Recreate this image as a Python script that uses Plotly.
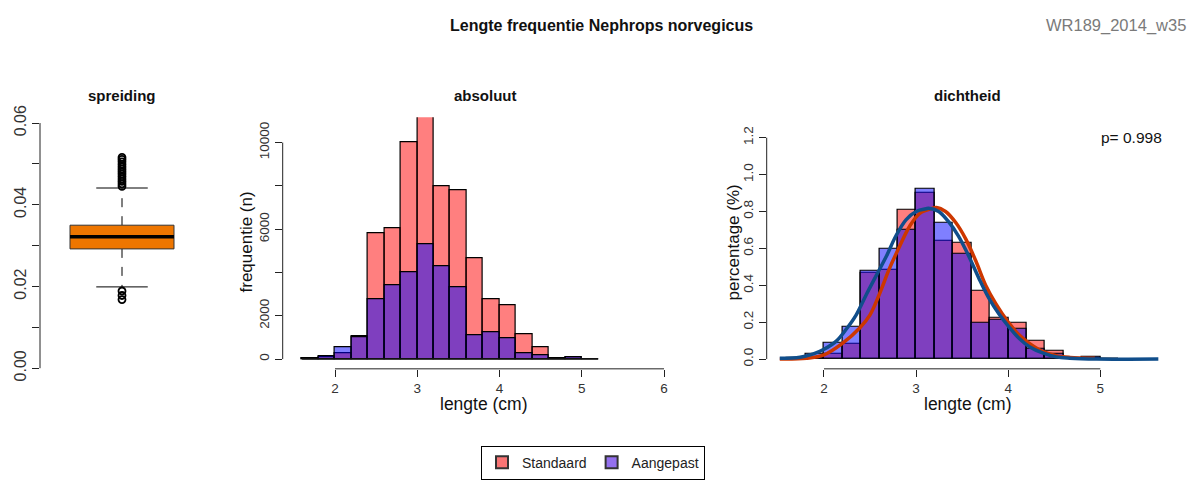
import plotly.graph_objects as go

# ---------------- data ----------------
bin_mids = [1.7, 1.9, 2.1, 2.3, 2.5, 2.7, 2.9, 3.1, 3.3, 3.5, 3.7, 3.9, 4.1, 4.3, 4.5, 4.7, 4.9, 5.1]
bin_width = 0.2

count_standaard = [30, 75, 270, 1050, 5800, 6040, 10040, 11210, 7966, 7816, 4650, 2766, 2480, 1172, 541, 30, 100, 0]
count_aangepast = [40, 150, 541, 1000, 2766, 3427, 4028, 5306, 4284, 3300, 1127, 1247, 947, 270, 195, 15, 80, 0]

dens_standaard = [0.003, 0.006, 0.026, 0.085, 0.470, 0.482, 0.808, 0.902, 0.641, 0.632, 0.372, 0.222, 0.196, 0.097, 0.046, 0.003, 0.008, 0.0]
dens_aangepast = [0.007, 0.026, 0.090, 0.173, 0.480, 0.596, 0.702, 0.921, 0.741, 0.570, 0.194, 0.212, 0.164, 0.053, 0.028, 0.003, 0.014, 0.0]

curve_std_x = [1.52, 1.81, 2.0, 2.2, 2.39, 2.5, 2.6, 2.71, 2.82, 2.93, 3.04, 3.18, 3.22, 3.32, 3.43, 3.54, 3.65,
               3.755, 3.865, 4.0, 4.12, 4.23, 4.38, 4.52, 4.67, 4.94]
curve_std_y = [0.0, 0.004, 0.023, 0.085, 0.17, 0.24, 0.35, 0.49, 0.61, 0.72, 0.79, 0.818, 0.822, 0.80, 0.74, 0.65, 0.53,
               0.40, 0.30, 0.20, 0.13, 0.085, 0.04, 0.018, 0.009, 0.004]

curve_aan_x = [1.52, 1.74, 1.885, 2.0, 2.14, 2.245, 2.35, 2.46, 2.57, 2.68, 2.78, 2.89, 3.0, 3.11, 3.135, 3.245,
               3.35, 3.46, 3.57, 3.68, 3.79, 3.90, 4.01, 4.12, 4.23, 4.38, 4.52, 4.67, 4.96, 5.63]
curve_aan_y = [0.004, 0.01, 0.028, 0.053, 0.10, 0.164, 0.24, 0.35, 0.455, 0.56, 0.667, 0.755, 0.80, 0.815, 0.817, 0.80,
               0.746, 0.667, 0.56, 0.44, 0.33, 0.244, 0.173, 0.111, 0.067, 0.032, 0.012, 0.005, 0.0, 0.0]

box_q1, box_median, box_q3 = 0.0292, 0.0322, 0.0350
box_lower_whisker, box_upper_whisker = 0.0199, 0.0441
outliers = [0.0445, 0.0451, 0.0457, 0.0463, 0.0469, 0.0475, 0.0481, 0.0487, 0.0493, 0.0499,
            0.0505, 0.0511, 0.0516, 0.0189, 0.0178, 0.0168]

p_value_text = "p= 0.998"

# ---------------- styles ----------------
W, H = 1198, 480
C_STD = "rgba(255,0,0,0.5)"
C_AAN = "rgba(0,0,255,0.5)"
C_ORANGE = "#EE7600"
C_RED_LINE = "#CD3700"
C_BLUE_LINE = "#104E8B"
FONT = "Liberation Sans, Arial, sans-serif"
NARROW = "Liberation Sans Narrow, Arial Narrow, Liberation Sans, sans-serif"


def px_x(p):
    return p / W


def px_y(p):
    return 1 - p / H


fig = go.Figure()

# ---------------- panel 1: boxplot ----------------
c, hw, cap = 1.0, 0.317, 0.157
fig.add_trace(go.Scatter(x=[c, c], y=[box_q3, box_upper_whisker], mode="lines",
                         line=dict(color="black", width=1, dash="dash"), xaxis="x", yaxis="y", showlegend=False))
fig.add_trace(go.Scatter(x=[c, c], y=[box_q1, box_lower_whisker], mode="lines",
                         line=dict(color="black", width=1, dash="dash"), xaxis="x", yaxis="y", showlegend=False))
for wv in (box_upper_whisker, box_lower_whisker):
    fig.add_trace(go.Scatter(x=[c - cap, c + cap], y=[wv, wv], mode="lines",
                             line=dict(color="black", width=1), xaxis="x", yaxis="y", showlegend=False))
fig.add_trace(go.Scatter(x=[c - hw, c + hw, c + hw, c - hw, c - hw],
                         y=[box_q1, box_q1, box_q3, box_q3, box_q1], mode="lines", fill="toself",
                         fillcolor=C_ORANGE, line=dict(color="#333", width=1),
                         xaxis="x", yaxis="y", showlegend=False))
fig.add_trace(go.Scatter(x=[c - hw, c + hw], y=[box_median, box_median], mode="lines",
                         line=dict(color="black", width=3.5), xaxis="x", yaxis="y", showlegend=False))
fig.add_trace(go.Scatter(x=[c] * len(outliers), y=outliers, mode="markers",
                         marker=dict(symbol="circle-open", size=7, color="black", line=dict(width=1.8)),
                         xaxis="x", yaxis="y", showlegend=False))

# ---------------- panel 2: absolute histogram ----------------
fig.add_trace(go.Bar(x=bin_mids, y=count_standaard, width=bin_width, marker=dict(color=C_STD, line=dict(color="black", width=1.2)),
                     xaxis="x2", yaxis="y2", showlegend=False))
fig.add_trace(go.Bar(x=bin_mids, y=count_aangepast, width=bin_width, marker=dict(color=C_AAN, line=dict(color="black", width=1.2)),
                     xaxis="x2", yaxis="y2", showlegend=False))
fig.add_trace(go.Scatter(x=[bin_mids[0] - bin_width / 2, bin_mids[-1] + bin_width / 2], y=[0, 0], mode="lines",
                         line=dict(color="#222", width=1.2), xaxis="x2", yaxis="y2", showlegend=False))

# ---------------- panel 3: density ----------------
fig.add_trace(go.Bar(x=bin_mids, y=dens_standaard, width=bin_width, marker=dict(color=C_STD, line=dict(color="black", width=1.2)),
                     xaxis="x3", yaxis="y3", showlegend=False))
fig.add_trace(go.Bar(x=bin_mids, y=dens_aangepast, width=bin_width, marker=dict(color=C_AAN, line=dict(color="black", width=1.2)),
                     xaxis="x3", yaxis="y3", showlegend=False))
fig.add_trace(go.Scatter(x=curve_std_x, y=curve_std_y, mode="lines", line=dict(color=C_RED_LINE, width=3.5, shape="spline"),
                         xaxis="x3", yaxis="y3", showlegend=False))
fig.add_trace(go.Scatter(x=curve_aan_x, y=curve_aan_y, mode="lines", line=dict(color=C_BLUE_LINE, width=3.5, shape="spline"),
                         xaxis="x3", yaxis="y3", showlegend=False))

# legend-only entries
fig.add_trace(go.Bar(x=[None], y=[None], name="Standaard", marker=dict(color="#F87474", line=dict(color="#333", width=1.5)),
                     xaxis="x2", yaxis="y2"))
fig.add_trace(go.Bar(x=[None], y=[None], name="Aangepast", marker=dict(color="#9470EE", line=dict(color="#333", width=1.5)),
                     xaxis="x2", yaxis="y2"))

common = dict(showgrid=False, zeroline=False, showline=False, ticks="outside", ticklen=7,
              tickwidth=1, tickcolor="#222")
xcommon = dict(common, tickfont=dict(family=FONT, size=13.5, color="#333"))
ycommon = dict(common, tickfont=dict(family=FONT, size=13.5, color="#333"))
ybox = dict(common, tickfont=dict(family=FONT, size=16, color="#333"))

fig.update_layout(
    width=W, height=H, margin=dict(l=0, r=0, t=0, b=0),
    paper_bgcolor="white", plot_bgcolor="white", barmode="overlay", bargap=0,
    xaxis=dict(domain=[px_x(40), px_x(204)], range=[0.5, 1.5], visible=False, anchor="y"),
    yaxis=dict(domain=[px_y(378.7), px_y(107.7)], range=[-0.0024, 0.0624], anchor="x",
               tickvals=[0, 0.01, 0.02, 0.03, 0.04, 0.05, 0.06],
               ticktext=["0.00", "", "0.02", "", "0.04", "", "0.06"], tickangle=-90, **ybox),
    xaxis2=dict(domain=[px_x(282.7), px_x(684.6)], range=[1.364, 6.25], anchor="y2",
                tickvals=[2, 3, 4, 5, 6], **xcommon),
    yaxis2=dict(domain=[px_y(369.3), px_y(111.7)], range=[-451, 11174], anchor="x2",
                tickvals=[0, 2000, 4000, 6000, 8000, 10000],
                ticktext=["0", "2000", "", "6000", "", "10000"], tickangle=-90, **ycommon),
    xaxis3=dict(domain=[px_x(766.7), px_x(1174)], range=[1.378, 5.80], anchor="y3",
                tickvals=[2, 3, 4, 5], **xcommon),
    yaxis3=dict(domain=[px_y(369.3), px_y(123.7)], range=[-0.053, 1.248], anchor="x3",
                tickvals=[0, 0.2, 0.4, 0.6, 0.8, 1.0, 1.2],
                ticktext=["0.0", "0.2", "0.4", "0.6", "0.8", "1.0", "1.2"], tickangle=-90, **ycommon),
    legend=dict(orientation="h", x=px_x(481), xanchor="left", y=px_y(448), yanchor="top",
                bordercolor="black", borderwidth=1, bgcolor="white",
                font=dict(family=FONT, size=14, color="#222"), itemsizing="constant",
                traceorder="normal"),
    showlegend=True,
)

# axis lines (R style, spanning first to last tick)
line_style = dict(color="#222", width=1)
fig.add_shape(type="line", xref="x domain", yref="y", x0=0, x1=0, y0=0, y1=0.06, line=line_style)
fig.add_shape(type="line", xref="x2 domain", yref="y2", x0=0, x1=0, y0=0, y1=10000, line=line_style)
fig.add_shape(type="line", xref="x2", yref="y2 domain", x0=2, x1=6, y0=0, y1=0, line=line_style)
fig.add_shape(type="line", xref="x3 domain", yref="y3", x0=0, x1=0, y0=0, y1=1.2, line=line_style)
fig.add_shape(type="line", xref="x3", yref="y3 domain", x0=2, x1=5, y0=0, y1=0, line=line_style)

# texts
def ann(text, x, y, size=12, bold=False, color="#111", family=FONT, angle=0, xanchor="center"):
    t = f"<b>{text}</b>" if bold else text
    fig.add_annotation(text=t, x=px_x(x), y=px_y(y), xref="paper", yref="paper", showarrow=False,
                       font=dict(family=family, size=size, color=color), textangle=angle,
                       xanchor=xanchor, yanchor="middle")

ann("Lengte frequentie Nephrops norvegicus", 601.5, 18, size=16, bold=True, family=NARROW)
ann("WR189_2014_w35", 1188, 18, size=16.5, color="#7a7a7a", family=NARROW, xanchor="right")
ann("spreiding", 122, 90, size=15, bold=True)
ann("absoluut", 485, 90, size=15, bold=True)
ann("dichtheid", 967, 90, size=15, bold=True)
ann(p_value_text, 1131.5, 133, size=15.5)
ann("frequentie (n)", 246, 240, size=17, angle=-90)
ann("percentage (%)", 733, 240, size=17, angle=-90)
ann("lengte (cm)", 484, 405, size=17.5)
ann("lengte (cm)", 968, 405, size=17.5)

fig.write_html("out.html")
